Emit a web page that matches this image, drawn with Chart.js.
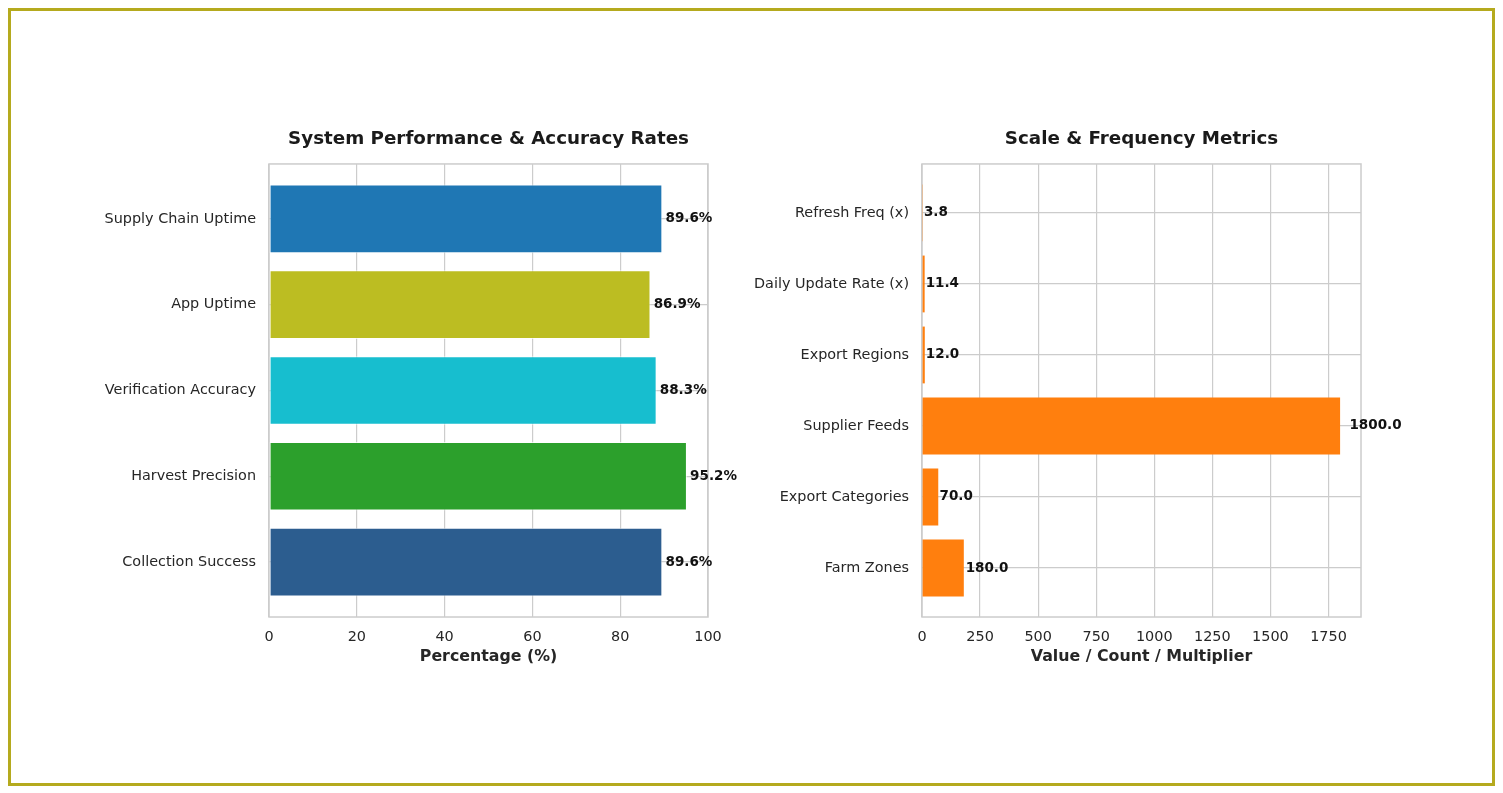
<!DOCTYPE html>
<html>
<head>
<meta charset="utf-8">
<script src="https://cdn.jsdelivr.net/npm/chart.js@4"></script>
<style>
  html, body { margin: 0; padding: 0; background: #fff; }
  body { width: 1503px; height: 793px; position: relative; overflow: hidden; }
  .frame { position: absolute; left: 8px; top: 8px; width: 1481px; height: 772px; border: 3px solid #b5aa1e; }
  .box { position: absolute; }
  #left-box { left: 20px; top: 110px; width: 720px; height: 559px; }
  #right-box { left: 750px; top: 110px; width: 720px; height: 559px; }
</style>
</head>
<body>
<div class="frame"></div>
<div class="box" id="left-box"><canvas id="perfChart"></canvas></div>
<div class="box" id="right-box"><canvas id="scaleChart"></canvas></div>
<script>
const perfLabels = ["Supply Chain Uptime", "App Uptime", "Verification Accuracy", "Harvest Precision", "Collection Success"];
const perfValues = [89.6, 86.9, 88.3, 95.2, 89.6];
const perfColors = ["#1f77b4", "#bcbd22", "#17becf", "#2ca02c", "#2c5d8f"];
const perfTicks = [0, 20, 40, 60, 80, 100];

const scaleLabels = ["Refresh Freq (x)", "Daily Update Rate (x)", "Export Regions", "Supplier Feeds", "Export Categories", "Farm Zones"];
const scaleValues = [3.8, 11.4, 12.0, 1800.0, 70.0, 180.0];
const scaleTicks = [0, 250, 500, 750, 1000, 1250, 1500, 1750];

Chart.defaults.font.family = "'DejaVu Sans', sans-serif";
Chart.defaults.color = "#262626";
Chart.defaults.animation = false;
Chart.defaults.maintainAspectRatio = false;

const gridColor = "#cccccc";

// draws the plot frame on all four sides
const frameBox = {
    id: "frameBox",
    beforeDatasetsDraw(chart) {
        const { ctx, chartArea: a } = chart;
        ctx.save();
        ctx.strokeStyle = gridColor;
        ctx.lineWidth = 1.5;
        ctx.strokeRect(a.left, a.top, a.right - a.left, a.bottom - a.top);
        ctx.restore();
    }
};

// value text at the end of each bar
const valueLabels = {
    id: "valueLabels",
    afterDatasetsDraw(chart, args, opts) {
        const { ctx } = chart;
        const xScale = chart.scales.x;
        const meta = chart.getDatasetMeta(0);
        ctx.save();
        ctx.font = "bold 13.5px 'DejaVu Sans', sans-serif";
        ctx.fillStyle = "#111";
        ctx.textAlign = "left";
        ctx.textBaseline = "middle";
        meta.data.forEach((bar, i) => {
            const v = chart.data.datasets[0].data[i].x;
            const x = xScale.getPixelForValue(opts.pos(v)) + 1;
            ctx.fillText(opts.fmt(v), x, bar.y);
        });
        ctx.restore();
    }
};

const makeChart = (canvasId, labels, values, colors, ticks, xMax, title, xTitle, yWidth, padRight, labelOpts, border) => {
    const n = labels.length;
    const margin = 0.05 * (n - 1 + 0.8);
    return new Chart(document.getElementById(canvasId), {
        type: "bar",
        data: {
            datasets: [{
                data: values.map((v, i) => ({ x: v, y: i })),
                backgroundColor: colors,
                borderColor: "rgba(255,255,255,0.7)",
                borderWidth: border,
                borderSkipped: false,
                categoryPercentage: 0.8,
                barPercentage: 1.0
            }]
        },
        options: {
            indexAxis: "y",
            layout: { padding: { left: 0, right: padRight, top: 0, bottom: 0 } },
            plugins: {
                legend: { display: false },
                tooltip: { enabled: false },
                title: {
                    display: true,
                    text: title,
                    fullSize: false,
                    font: { size: 18.3, weight: "bold" },
                    color: "#1a1a1a",
                    padding: { top: 18, bottom: 14 }
                },
                valueLabels: labelOpts
            },
            scales: {
                x: {
                    type: "linear",
                    bounds: "data",
                    offset: false,
                    min: 0,
                    max: xMax,
                    afterBuildTicks: (s) => { s.ticks = ticks.map(t => ({ value: t })); },
                    afterFit: (s) => { s.height = 52; },
                    grid: { color: gridColor, lineWidth: 1.2, drawTicks: false, offset: false },
                    border: { display: false },
                    ticks: { padding: 12, font: { size: 14.4 }, maxRotation: 0, callback: (v) => String(v) },
                    title: {
                        display: true,
                        text: xTitle,
                        font: { size: 15.8, weight: "bold" },
                        padding: { top: 0, bottom: 3 }
                    }
                },
                y: {
                    type: "linear",
                    bounds: "data",
                    offset: false,
                    reverse: true,
                    min: -0.4 - margin,
                    max: n - 1 + 0.4 + margin,
                    afterBuildTicks: (s) => { s.ticks = labels.map((_, i) => ({ value: i })); },
                    afterFit: (s) => { s.width = yWidth; },
                    grid: { color: gridColor, lineWidth: 1.2, drawTicks: false, offset: false },
                    border: { display: false },
                    ticks: {
                        padding: 13,
                        font: { size: 14.4 },
                        callback: (v) => labels[v]
                    }
                }
            }
        },
        plugins: [frameBox, valueLabels]
    });
};

window.addEventListener("load", () => {
    makeChart("perfChart", perfLabels, perfValues, perfColors, perfTicks, 100,
        "System Performance & Accuracy Rates", "Percentage (%)", 249, 32,
        { pos: v => v + 0.5, fmt: v => `${v.toFixed(1)}%` }, 1);

    makeChart("scaleChart", scaleLabels, scaleValues, "#ff7f0e", scaleTicks, 1890,
        "Scale & Frequency Metrics", "Value / Count / Multiplier", 172, 109,
        { pos: v => v * 1.02, fmt: v => v.toFixed(1) }, 0);
});
</script>
</body>
</html>
